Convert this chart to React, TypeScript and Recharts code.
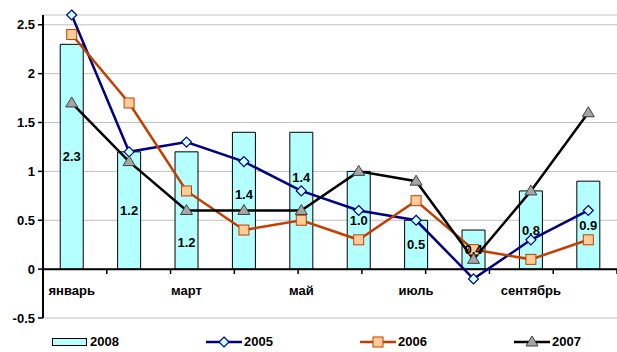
import React from "react";
import {
  ComposedChart,
  Bar,
  Line,
  XAxis,
  YAxis,
  CartesianGrid,
  ReferenceLine,
  Legend,
  LabelList,
} from "recharts";

const months = ["январь", "февраль", "март", "апрель", "май", "июнь", "июль", "август", "сентябрь", "октябрь"];
const s2008 = [2.3, 1.2, 1.2, 1.4, 1.4, 1.0, 0.5, 0.4, 0.8, 0.9];
const s2005 = [2.6, 1.2, 1.3, 1.1, 0.8, 0.6, 0.5, -0.1, 0.3, 0.6];
const s2006 = [2.4, 1.7, 0.8, 0.4, 0.5, 0.3, 0.7, 0.2, 0.1, 0.3];
const s2007 = [1.7, 1.1, 0.6, 0.6, 0.6, 1.0, 0.9, 0.1, 0.8, 1.6];
const yTicks = [-0.5, 0, 0.5, 1, 1.5, 2, 2.5];

const data = months.map((m, i) => ({
  month: m,
  y2008: s2008[i],
  y2005: s2005[i],
  y2006: s2006[i],
  y2007: s2007[i],
}));

const boundaries = months.map((_, i) => i + 1).slice(0, months.length - 1);

const FONT = "'Liberation Sans', Arial, sans-serif";
const NAVY = "#000080";
const ORANGE = "#C43E00";
const CYAN = "#B4FFFF";

const Diamond = (props: any) => {
  const { cx, cy } = props;
  if (cx == null || cy == null) return null;
  return (
    <polygon
      points={`${cx},${cy - 5} ${cx + 5},${cy} ${cx},${cy + 5} ${cx - 5},${cy}`}
      fill="#CCFFFF"
      stroke={NAVY}
      strokeWidth={1.2}
    />
  );
};

const Square = (props: any) => {
  const { cx, cy } = props;
  if (cx == null || cy == null) return null;
  return <rect x={cx - 5} y={cy - 5} width={10} height={10} fill="#FFCC99" stroke={ORANGE} strokeWidth={1} />;
};

const Triangle = (props: any) => {
  const { cx, cy } = props;
  if (cx == null || cy == null) return null;
  return (
    <polygon
      points={`${cx},${cy - 6} ${cx + 6},${cy + 4} ${cx - 6},${cy + 4}`}
      fill="#A6A6A6"
      stroke="#404040"
      strokeWidth={1}
    />
  );
};

const BarLabel = (props: any) => {
  const { x, y, width, height, value, index } = props;
  const shift: Record<number, number> = { 2: 32, 3: -6, 4: -23 };
  return (
    <text
      x={x + width / 2}
      y={y + height / 2 + (shift[index] || 0)}
      textAnchor="middle"
      dominantBaseline="central"
      fontFamily={FONT}
      fontWeight="bold"
      fontSize={13}
      fill="#000"
    >
      {Number(value).toFixed(1)}
    </text>
  );
};

const MonthTick = (props: any) => {
  const { x, y, payload } = props;
  return (
    <text x={x} y={y - 23} textAnchor="middle" fontFamily={FONT} fontWeight="bold" fontSize={13} fill="#000">
      {payload.value}
    </text>
  );
};

const legendItems = [
  { name: "2008", kind: "bar" },
  { name: "2005", kind: "diamond" },
  { name: "2006", kind: "square" },
  { name: "2007", kind: "triangle" },
];

const renderLegend = () => (
  <div style={{ position: "relative", width: 617, height: 20 }}>
    {legendItems.map((it, i) => (
      <div
        key={it.name}
        style={{ position: "absolute", left: 52 + i * 154, top: 4, display: "flex", alignItems: "center" }}
      >
        <svg width={36} height={12} style={{ display: "block" }}>
          {it.kind === "bar" && <rect x={0.5} y={2.5} width={34} height={7} fill={CYAN} stroke="#000" strokeWidth={1} />}
          {it.kind === "diamond" && (
            <g>
              <line x1={0} y1={6} x2={36} y2={6} stroke={NAVY} strokeWidth={2.5} />
              <Diamond cx={18} cy={6} />
            </g>
          )}
          {it.kind === "square" && (
            <g>
              <line x1={0} y1={6} x2={36} y2={6} stroke={ORANGE} strokeWidth={2.5} />
              <Square cx={18} cy={6} />
            </g>
          )}
          {it.kind === "triangle" && (
            <g>
              <line x1={0} y1={6} x2={36} y2={6} stroke="#000" strokeWidth={2.5} />
              <Triangle cx={18} cy={6} />
            </g>
          )}
        </svg>
        <span style={{ fontFamily: FONT, fontWeight: "bold", fontSize: 13, marginLeft: 2, lineHeight: "12px" }}>
          {it.name}
        </span>
      </div>
    ))}
  </div>
);

export default function App() {
  return (
    <div style={{ position: "absolute", left: 0, top: 0, width: 617, height: 352, background: "#fff" }}>
      <ComposedChart
        width={617}
        height={352}
        data={data}
        margin={{ top: 15, right: 0, left: 0, bottom: 0 }}
        barCategoryGap="30%"
      >
        <CartesianGrid vertical={false} stroke="#C0C0C0" strokeWidth={1} />
        <XAxis
          dataKey="month"
          interval={1}
          axisLine={false}
          tickLine={false}
          tickSize={0}
          tickMargin={0}
          height={14}
          tick={<MonthTick />}
        />
        <XAxis xAxisId="b" type="number" domain={[0, months.length]} hide />
        <YAxis
          domain={[-0.5, 2.6]}
          ticks={yTicks}
          width={43}
          axisLine={{ stroke: "#000", strokeWidth: 2 }}
          tickLine={{ stroke: "#000", strokeWidth: 1.5 }}
          tickSize={5}
          tickMargin={3}
          tick={{ fontFamily: FONT, fontWeight: "bold", fontSize: 13, fill: "#000" }}
        />
        <Legend verticalAlign="bottom" height={20} content={renderLegend} wrapperStyle={{ left: 0, width: 617 }} />
        <Bar dataKey="y2008" name="2008" fill={CYAN} stroke="#000" strokeWidth={1} isAnimationActive={false}>
          <LabelList dataKey="y2008" content={<BarLabel />} />
        </Bar>
        <ReferenceLine y={0} stroke="#000" strokeWidth={2} />
        {boundaries.map((b) => (
          <ReferenceLine
            key={b}
            xAxisId="b"
            segment={[
              { x: b, y: 0 },
              { x: b, y: -0.05 },
            ]}
            stroke="#000"
            strokeWidth={1.5}
          />
        ))}
        <Line
          dataKey="y2005"
          name="2005"
          stroke={NAVY}
          strokeWidth={2.5}
          dot={<Diamond />}
          activeDot={false}
          isAnimationActive={false}
        />
        <Line
          dataKey="y2006"
          name="2006"
          stroke={ORANGE}
          strokeWidth={2.5}
          dot={<Square />}
          activeDot={false}
          isAnimationActive={false}
        />
        <Line
          dataKey="y2007"
          name="2007"
          stroke="#000"
          strokeWidth={2.5}
          dot={<Triangle />}
          activeDot={false}
          isAnimationActive={false}
        />
      </ComposedChart>
    </div>
  );
}
